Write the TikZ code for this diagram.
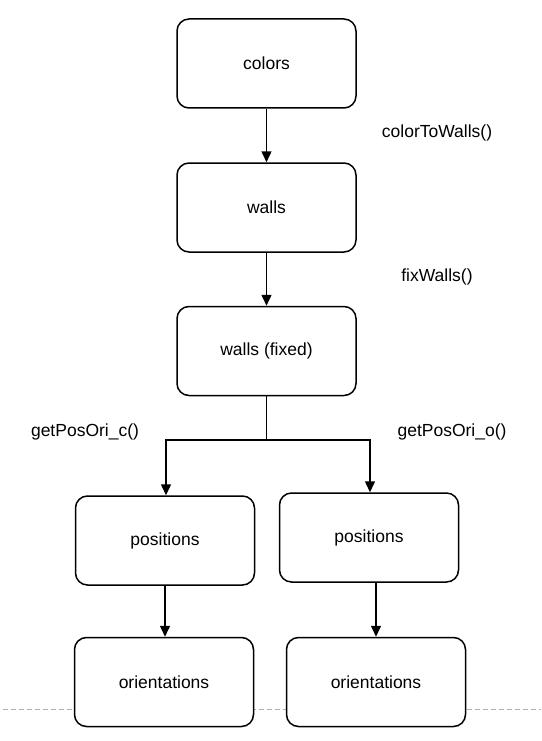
\documentclass[tikz,border=0pt]{standalone}
\usepackage{fontspec}
\setmainfont{Liberation Sans}
\usetikzlibrary{arrows.meta}
\begin{document}
\begin{tikzpicture}[x=1pt,y=-1pt,
  box/.style={draw=black, fill=white, line width=1.5pt, rounded corners=12pt, minimum width=179pt, minimum height=89pt, inner sep=0pt, font=\fontsize{17.5}{20}\selectfont},
  lbl/.style={font=\fontsize{17.5}{20}\selectfont, inner sep=0pt},
  conn/.style={line width=1.5pt, -{Triangle[length=11pt,width=10pt]}}]
\useasboundingbox (0,0) rectangle (541,741);
\draw[gray!60, line width=0.8pt, dash pattern=on 5pt off 3pt] (3,709) -- (541,709);
\node[box] (colors) at (266.5,63.5) {colors};
\node[box] (walls) at (266.5,207.5) {walls};
\node[box] (fixed) at (266.5,351) {walls (fixed)};
\node[box] (posL) at (165,540.5) {positions};
\node[box] (posR) at (369,537.5) {positions};
\node[box] (oriL) at (164,682) {orientations};
\node[box] (oriR) at (376,682) {orientations};
\node[lbl] (l1) at (437,133) {colorToWalls()};
\node[lbl] (l2) at (437,277) {fixWalls()};
\node[lbl] (l3) at (85,432) {getPosOri\_c()};
\node[lbl] (l4) at (452,432) {getPosOri\_o()};
\coordinate (j) at (266.5,440);
\draw[conn] (colors) -- (walls);
\draw[conn] (walls) -- (fixed);
\draw[line width=1.5pt] (fixed.south) -- (j);
\draw[conn] (j) -| (posL.north -| 166,0);
\draw[conn] (j) -| (posR.north -| 370,0);
\draw[conn] (posL.south -| 165,0) -- (oriL.north -| 165,0);
\draw[conn] (posR.south -| 376,0) -- (oriR.north -| 376,0);
\end{tikzpicture}
\end{document}
